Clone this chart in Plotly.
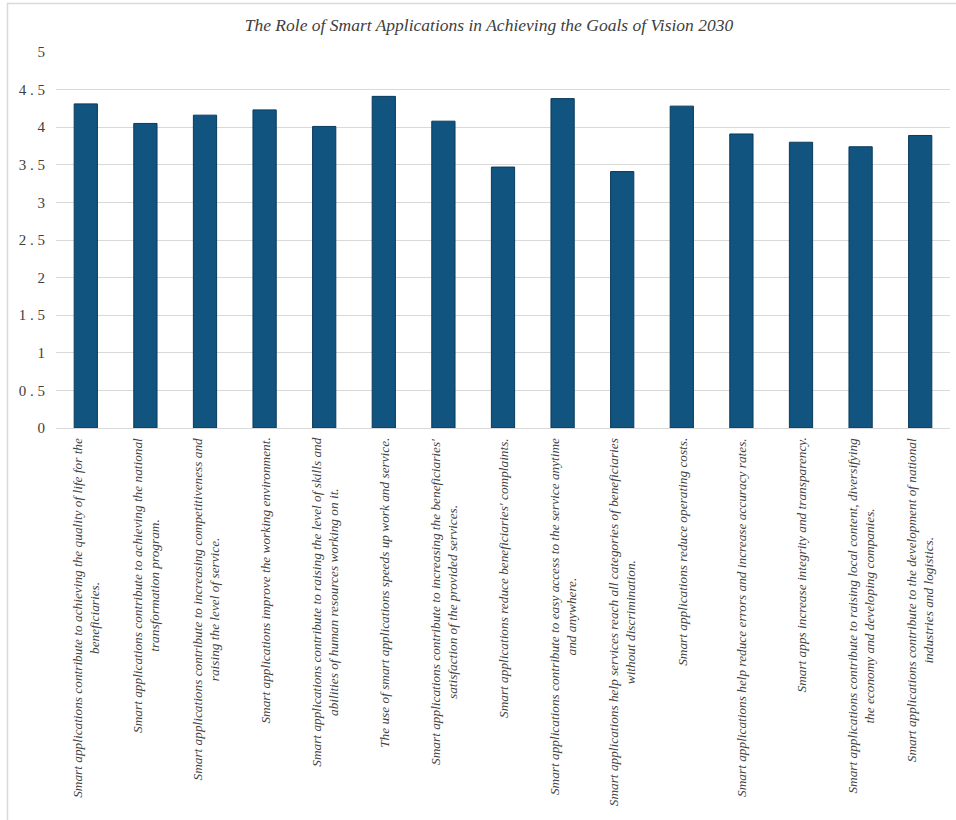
import plotly.graph_objects as go

title = "The Role of Smart Applications in Achieving the Goals of Vision 2030"

categories = [
    "Smart applications contribute to achieving the quality of life for the<br>beneficiaries.",
    "Smart applications contribute to achieving the national<br>transformation program.",
    "Smart applications contribute to increasing competitiveness and<br>raising the level of service.",
    "Smart applications improve the working environment.",
    "Smart applications contribute to raising the level of skills and<br>abilities of human resources working on it.",
    "The use of smart applications speeds up work and service.",
    "Smart applications contribute to increasing the beneficiaries'<br>satisfaction of the provided services.",
    "Smart applications reduce beneficiaries' complaints.",
    "Smart applications contribute to easy access to the service anytime<br>and anywhere.",
    "Smart applications help services reach all categories of beneficiaries<br>without discrimination.",
    "Smart applications reduce operating costs.",
    "Smart applications help reduce errors and increase accuracy rates.",
    "Smart apps increase integrity and transparency.",
    "Smart applications contribute to raising local content, diversifying<br>the economy and developing companies.",
    "Smart applications contribute to the development of national<br>industries and logistics.",
]

values = [4.31, 4.05, 4.16, 4.23, 4.01, 4.41, 4.08, 3.47, 4.38, 3.41, 4.28, 3.91, 3.80, 3.74, 3.89]

ytick_vals = [0, 0.5, 1, 1.5, 2, 2.5, 3, 3.5, 4, 4.5, 5]
ytick_text = ["0", "0 . 5", "1", "1 . 5", "2", "2 . 5", "3", "3 . 5", "4", "4 . 5", "5"]

SERIF = "Times New Roman"

x_idx = list(range(len(categories)))

fig = go.Figure(
    go.Bar(
        x=x_idx,
        y=values,
        marker=dict(color="#10547f", line=dict(color="#0a3a5c", width=1)),
        width=0.39,
        hoverinfo="y",
    )
)

for i, cat in enumerate(categories):
    fig.add_annotation(
        x=i, xref="x", y=0, yref="paper",
        text=cat, textangle=-90, showarrow=False,
        xanchor="center", yanchor="top", yshift=-8, align="center",
        font=dict(family=SERIF, size=13.3, color="#404040", style="italic"),
    )

W, H = 956, 820
L, R, T, B = 56, 956 - 950, 52, 820 - 428
pw, ph = W - L - R, H - T - B

def px_to_paper_x(px):
    return (px - L) / pw

def px_to_paper_y(py):
    return (H - B - py) / ph

# light outer frame (top and left edges visible, right/bottom run off the page)
fig.add_shape(
    type="rect", xref="paper", yref="paper",
    x0=px_to_paper_x(7.5), x1=px_to_paper_x(975),
    y0=px_to_paper_y(840), y1=px_to_paper_y(3.5),
    line=dict(color="#d9d9d9", width=1.5), fillcolor="rgba(0,0,0,0)", layer="below",
)

fig.update_layout(
    width=W, height=H,
    margin=dict(l=L, r=R, t=T, b=B, autoexpand=False),
    paper_bgcolor="white", plot_bgcolor="white",
    title=dict(
        text=title, x=489 / W, xanchor="center", y=1 - 25 / H, yanchor="middle",
        font=dict(family=SERIF, size=17.5, color="#404040", style="italic"),
    ),
    font=dict(family=SERIF, color="#404040"),
    showlegend=False,
    xaxis=dict(
        range=[-0.5, len(categories) - 0.5],
        showticklabels=False, showgrid=False, zeroline=False,
        showline=True, linecolor="#d9d9d9", linewidth=1, ticks="",
    ),
    yaxis=dict(
        range=[0, 5], tickvals=ytick_vals, ticktext=ytick_text,
        showgrid=True, gridcolor="#d9d9d9", gridwidth=1,
        zeroline=False, showline=False, ticks="", automargin=False,
        tickfont=dict(family=SERIF, size=15, color="#404040"),
        ticklabelstandoff=10,
    ),
)

fig.write_html(
    "out.html",
    config={"displayModeBar": False},
    post_script="document.body.style.margin='0';",
)
